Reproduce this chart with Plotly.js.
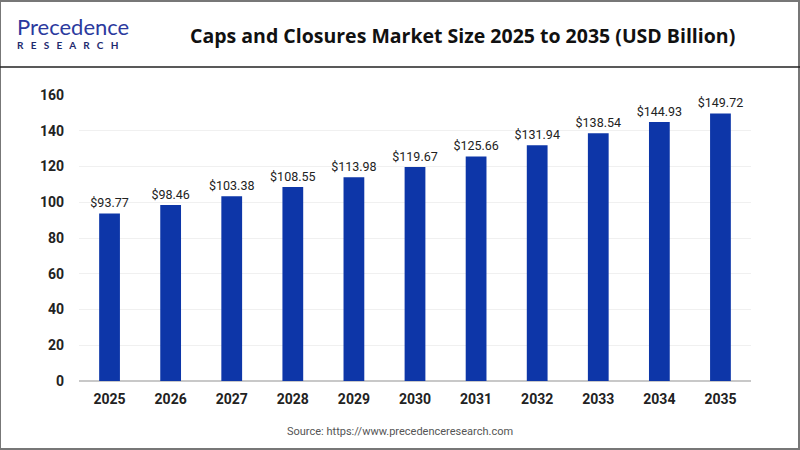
<!DOCTYPE html>
<html>
<head>
<meta charset="utf-8">
<script src="https://cdn.plot.ly/plotly-3.0.1.min.js"></script>
<style>
  html, body { margin: 0; padding: 0; background: #fff; }
  #chart { width: 800px; height: 450px; }
</style>
</head>
<body>
<div id="chart"></div>
<script>
// market size per year, USD billion
const years = ['2025', '2026', '2027', '2028', '2029', '2030', '2031', '2032', '2033', '2034', '2035'];
const marketSize = [93.77, 98.46, 103.38, 108.55, 113.98, 119.67, 125.66, 131.94, 138.54, 144.93, 149.72];
const yTicks = [0, 20, 40, 60, 80, 100, 120, 140, 160];

const barTrace = {
	x: years,
	y: marketSize,
	type: 'bar',
	marker: { color: '#0d36a8' },
	text: marketSize.map((v) => '$' + v.toFixed(2)),
	textposition: 'outside',
	constraintext: 'none',
	cliponaxis: false,
	textfont: { family: 'Roboto, Arial, sans-serif', size: 12.5, color: '#222222' },
	hoverinfo: 'skip',
};

const layout = {
	width: 800,
	height: 450,
	margin: { l: 79, r: 49, t: 95, b: 69 },
	paper_bgcolor: '#ffffff',
	plot_bgcolor: '#ffffff',
	showlegend: false,
	bargap: 0.66,
	font: { family: 'Roboto, Arial, sans-serif' },
	xaxis: {
		type: 'category',
		showgrid: false,
		zeroline: false,
		showline: false,
		ticks: '',
		tickfont: { family: 'Roboto, Arial, sans-serif', size: 14, color: '#222222', weight: 'bold' },
		ticklabelstandoff: 8,
	},
	yaxis: {
		range: [0, 160],
		tickvals: yTicks,
		showgrid: true,
		gridcolor: '#f0f0f0',
		zeroline: true,
		zerolinecolor: '#c8c8c8',
		zerolinewidth: 1.5,
		showline: false,
		ticks: '',
		ticklabelstandoff: 14,
		tickfont: { family: 'Roboto, Arial, sans-serif', size: 14, color: '#222222', weight: 'bold' },
	},
	shapes: [
		// outer border
		{ type: 'rect', xref: 'paper', yref: 'paper', x0: -79 / 672, x1: 1 + 48 / 672, y0: -68 / 286, y1: 1 + 94 / 286,
			line: { color: '#777777', width: 2 }, fillcolor: 'rgba(0,0,0,0)' },
		// header separator
		{ type: 'line', xref: 'paper', yref: 'paper', x0: -79 / 672, x1: 1 + 49 / 672, y0: 1 + 28 / 286, y1: 1 + 28 / 286,
			line: { color: '#222222', width: 1.5 } },
	],
	annotations: [
		{ text: 'Caps and Closures Market Size 2025 to 2035 (USD Billion)', xref: 'paper', yref: 'paper',
			x: (462 - 79) / 672, y: (381 - 35) / 286, xanchor: 'center', yanchor: 'middle', showarrow: false,
			font: { family: 'Open Sans, Arial, sans-serif', size: 19.5, color: '#111111', weight: 'bold' } },
		{ text: 'Precedence', xref: 'paper', yref: 'paper', x: (15 - 79) / 672, y: (381 - 26) / 286,
			xanchor: 'left', yanchor: 'middle', showarrow: false,
			font: { family: 'Lato, Arial, sans-serif', size: 22, color: '#2b3a9e' } },
		{ text: 'R   E   S   E   A   R   C   H', xref: 'paper', yref: 'paper', x: (15 - 79) / 672, y: (381 - 45) / 286,
			xanchor: 'left', yanchor: 'middle', showarrow: false,
			font: { family: 'Lato, Arial, sans-serif', size: 10, color: '#1d2a6e', weight: 'bold' } },
		{ text: 'Source: https://www.precedenceresearch.com', xref: 'paper', yref: 'paper',
			x: (400 - 79) / 672, y: (381 - 431) / 286, xanchor: 'center', yanchor: 'middle', showarrow: false,
			font: { family: 'Roboto, Arial, sans-serif', size: 11, color: '#555555' } },
	],
};

Plotly.newPlot('chart', [barTrace], layout, { displayModeBar: false, staticPlot: true });
</script>
</body>
</html>
